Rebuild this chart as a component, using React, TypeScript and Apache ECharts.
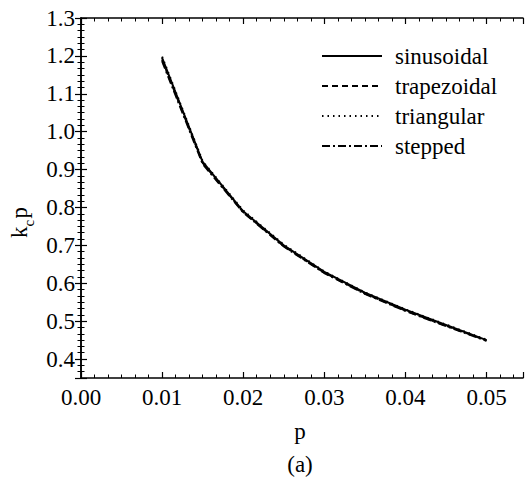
import React, { useEffect, useRef } from "react";
import * as echarts from "echarts";

const pValues = [0.01, 0.015, 0.02, 0.025, 0.03, 0.035, 0.04, 0.045, 0.05];
const sinusoidal = [1.195, 0.92, 0.79, 0.7, 0.63, 0.575, 0.53, 0.49, 0.45];
const trapezoidal = [1.19, 0.918, 0.788, 0.698, 0.628, 0.573, 0.528, 0.488, 0.449];
const triangular = [1.198, 0.922, 0.792, 0.702, 0.631, 0.576, 0.531, 0.491, 0.451];
const stepped = [1.186, 0.915, 0.787, 0.697, 0.627, 0.572, 0.527, 0.487, 0.448];
const seriesNames = ["sinusoidal", "trapezoidal", "triangular", "stepped"];
const xTitle = "p";
const caption = "(a)";

const FONT = "Liberation Serif";

export default function App() {
  const ref = useRef<HTMLDivElement>(null);
  useEffect(() => {
    if (!ref.current) return;
    const chart = echarts.init(ref.current, null, { renderer: "svg" });
    const values = [sinusoidal, trapezoidal, triangular, stepped];
    const dashes: any[] = ["solid", [6, 4], [1.5, 4], [8, 3, 2, 3]];
    const axisLine = { show: true, lineStyle: { color: "#000", width: 1.5 } };
    const tick = { show: true, inside: true, length: 6, lineStyle: { color: "#000", width: 1.2 } };
    const minor = { show: true, splitNumber: 6, length: 3.5, lineStyle: { color: "#000", width: 1 } };
    const xBase = {
      type: "value",
      min: 0,
      max: 0.0545,
      interval: 0.01,
      axisLine,
      axisTick: tick,
      minorTick: minor,
      splitLine: { show: false },
    };
    const yBase = {
      type: "value",
      min: 0.35,
      max: 1.3,
      splitNumber: 9,
      minInterval: 0.1,
      maxInterval: 0.1,
      axisLine,
      axisTick: tick,
      minorTick: minor,
      splitLine: { show: false },
    };
    const txt = (text: string, size: number, align = "left", va = "middle") => ({
      text,
      fontFamily: FONT,
      fontSize: size,
      fill: "#000",
      align,
      verticalAlign: va,
    });
    const legendY = [56, 86, 116, 146];
    const graphic: any[] = [];
    seriesNames.forEach((name, i) => {
      graphic.push({
        type: "line",
        shape: { x1: 322, y1: legendY[i], x2: 382, y2: legendY[i] },
        style: { stroke: "#000", lineWidth: 1.8, lineDash: dashes[i] === "solid" ? null : dashes[i] },
      });
      graphic.push({ type: "text", x: 395, y: legendY[i], style: txt(name, 23) });
    });
    graphic.push({ type: "text", x: 300, y: 431, style: txt(xTitle, 23, "center") });
    graphic.push({ type: "text", x: 300, y: 464, style: txt(caption, 23, "center") });
    graphic.push({
      type: "group",
      x: 19,
      y: 238,
      rotation: Math.PI / 2,
      children: [
        { type: "text", x: 0, y: 0, style: txt("k", 23) },
        { type: "text", x: 11.5, y: 10, style: txt("c", 15) },
        { type: "text", x: 19.5, y: 0, style: txt("p", 23) },
      ],
    });
    const labelStyle = { color: "#000", fontSize: 23, fontFamily: FONT };
    chart.setOption({
      animation: false,
      backgroundColor: "#fff",
      grid: { left: 81, top: 18, right: 3, bottom: 113, containLabel: false },
      xAxis: [
        {
          ...xBase,
          position: "bottom",
          axisLabel: {
            show: true,
            margin: 8,
            ...labelStyle,
            showMaxLabel: false,
            formatter: (v: number) => v.toFixed(2),
          },
        },
        { ...xBase, position: "top", axisLabel: { show: false } },
      ],
      yAxis: [
        {
          ...yBase,
          position: "left",
          axisLabel: {
            show: true,
            margin: 6,
            ...labelStyle,
            showMinLabel: false,
            formatter: (v: number) => v.toFixed(1),
          },
        },
        { ...yBase, position: "right", axisLabel: { show: false } },
      ],
      series: seriesNames.map((name, i) => ({
        name,
        type: "line",
        xAxisIndex: 0,
        yAxisIndex: 0,
        symbol: "none",
        data: pValues.map((p, j) => [p, values[i][j]]),
        lineStyle: { color: "#000", width: 2, type: dashes[i] },
      })),
      graphic,
    });
    return () => chart.dispose();
  }, []);
  return <div ref={ref} style={{ position: "fixed", left: 0, top: 0, width: 526, height: 491 }} />;
}
